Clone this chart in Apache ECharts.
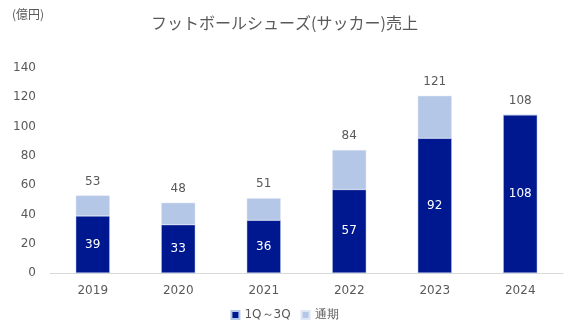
<!DOCTYPE html>
<html><head><meta charset="utf-8">
<script src="https://cdn.jsdelivr.net/npm/echarts@6/dist/echarts.min.js"></script>
<style>html,body{margin:0;padding:0;background:#fff}#c{width:569px;height:329px}</style>
</head><body><div id="c"></div>
<script>
const categories = ['2019','2020','2021','2022','2023','2024'];
const q1to3 = [39, 33, 36, 57, 92, 108];
const fullYear = [53, 48, 51, 84, 121, 108];
const yTicks = [0, 20, 40, 60, 80, 100, 120, 140];
const remainder = fullYear.map((v, i) => v - q1to3[i]);

const numFont = 'DejaVu Sans, Verdana, sans-serif';
const jpFont = '"Noto Sans CJK JP", sans-serif';
const chart = echarts.init(document.getElementById('c'));
chart.setOption({
  animation: false,
  backgroundColor: '#fff',
  title: [{
    text: 'フットボールシューズ(サッカー)売上',
    left: 'center', top: 10,
    textStyle: { fontFamily: jpFont, fontSize: 16, fontWeight: 'normal', color: '#595959' }
  }, {
    text: '(億円)', left: 7, top: 3,
    textStyle: { fontFamily: jpFont, fontSize: 12, fontWeight: 'normal', color: '#595959' }
  }],
  legend: {
    bottom: 3, left: 'center', itemWidth: 8, itemHeight: 8, itemGap: 10,
    icon: 'rect',
    textStyle: { fontFamily: numFont, fontSize: 12, color: '#595959' },
    data: ['1Q～3Q', '通期']
  },
  grid: { left: 50, right: 6, top: 68, bottom: 56 },
  xAxis: {
    type: 'category', data: categories,
    axisLine: { lineStyle: { color: '#d9d9d9', width: 1 } },
    axisTick: { show: false },
    axisLabel: { fontFamily: numFont, fontSize: 12, color: '#595959', margin: 12 }
  },
  yAxis: {
    type: 'value', min: yTicks[0], max: yTicks[yTicks.length - 1], interval: 20,
    splitLine: { show: false },
    axisLine: { show: false }, axisTick: { show: false },
    axisLabel: { fontFamily: numFont, fontSize: 12, color: '#595959', margin: 14 }
  },
  series: [{
    name: '1Q～3Q', type: 'bar', stack: 's', data: q1to3, barWidth: 34,
    itemStyle: { color: '#00188F', borderColor: '#b4c7e7', borderWidth: 0.5 },
    label: { show: true, position: 'inside', color: '#fff', fontFamily: numFont, fontSize: 12 }
  }, {
    name: '通期', type: 'bar', stack: 's', data: remainder, barWidth: 34,
    itemStyle: { color: '#B4C7E7', borderColor: '#dfe7f5', borderWidth: 0.5 },
    label: {
      show: true, position: 'top', distance: 8, color: '#595959', fontFamily: numFont, fontSize: 12,
      formatter: p => String(fullYear[p.dataIndex])
    }
  }]
});
</script></body></html>
